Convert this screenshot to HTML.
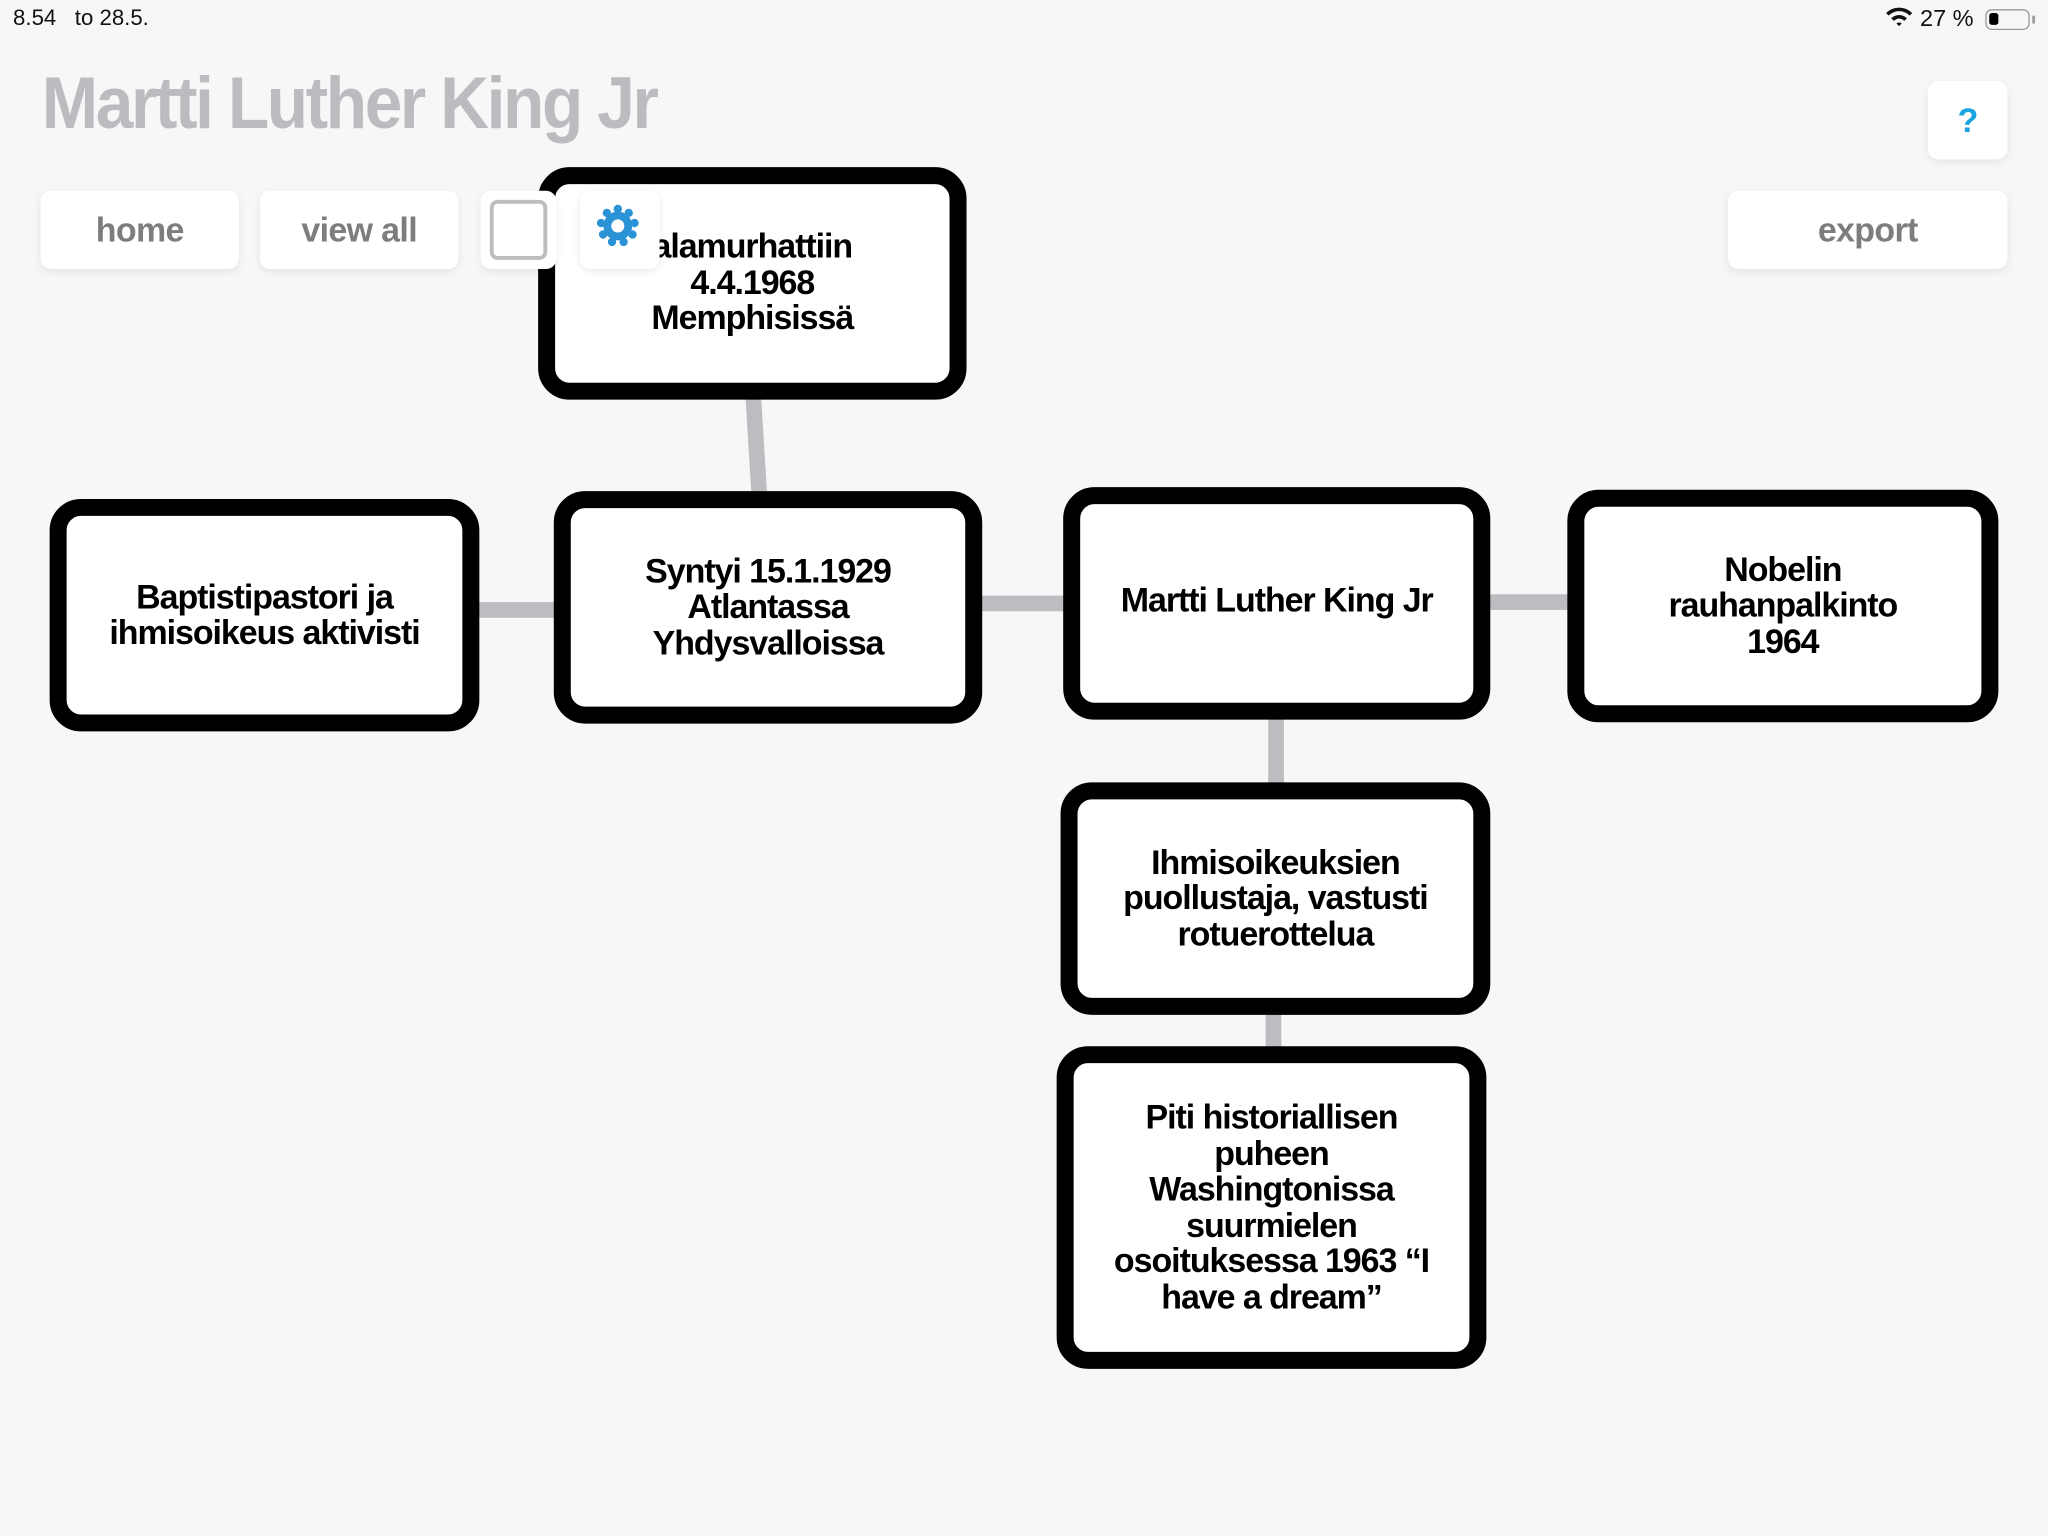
<!DOCTYPE html>
<html><head><meta charset="utf-8"><style>
html,body{margin:0;padding:0;width:2048px;height:1536px;overflow:hidden;background:#f7f7f7;}
#s{position:absolute;left:0;top:0;width:1568px;height:1176px;transform:scale(1.30612);transform-origin:0 0;font-family:"Liberation Sans","DejaVu Sans",sans-serif;}
.a{position:absolute}
.btn{position:absolute;background:#fff;border-radius:8px;box-shadow:0 2px 6px rgba(0,0,0,0.08);color:#7d7d80;font-weight:bold;font-size:26px;display:flex;align-items:center;justify-content:center;letter-spacing:-0.5px}
.box{position:absolute;box-sizing:border-box;border:13px solid #000;border-radius:24px;background:#fff;display:flex;align-items:center;justify-content:center;text-align:center;font-weight:bold;font-size:26px;line-height:27.5px;color:#000;letter-spacing:-0.8px;padding:0 20px}
.ln{position:absolute;background:#bdbdc1}
</style></head><body><div id="s">
<div class="a" style="left:10px;top:4px;font-size:17px;color:#111">8.54&nbsp;&nbsp; to 28.5.</div>
<div class="a" style="left:1443px;top:4px;font-size:18px;color:#111">
<svg width="22" height="18" viewBox="0 0 22 18" style="vertical-align:-2px"><path d="M1 6 A14 14 0 0 1 21 6 L19 8 A11 11 0 0 0 3 8Z M5 10 A8.5 8.5 0 0 1 17 10 L15 12 A5.5 5.5 0 0 0 7 12Z M9 14 L11 16 L13 14 A3 3 0 0 0 9 14Z" fill="#111"/></svg> 27 %</div>
<div class="a" style="left:1520px;top:7px;width:34px;height:16px;border:1.5px solid #999;border-radius:5px;box-sizing:border-box"><div style="position:absolute;left:2px;top:2px;width:7px;height:9px;background:#000;border-radius:2px"></div></div>
<div class="a" style="left:1556px;top:12px;width:2px;height:6px;background:#999"></div>
<div class="a" style="left:32px;top:46px;font-size:56px;font-weight:bold;color:#bcbcc0;letter-spacing:-2px;transform:scaleX(0.925);transform-origin:0 0;white-space:nowrap">Martti Luther King Jr</div>
<div class="btn" style="left:1476px;top:62px;width:61px;height:60px;color:#1aa3e0;font-size:26px">?</div>
<div class="btn" style="left:31px;top:146px;width:152px;height:60px">home</div>
<div class="btn" style="left:199px;top:146px;width:152px;height:60px">view all</div>
<div class="btn" style="left:1323px;top:146px;width:214px;height:60px">export</div>

<div class="ln" style="left:573px;top:300px;width:12px;height:82px;transform:rotate(-3.5deg)"></div>
<div class="ln" style="left:360px;top:461px;width:70px;height:12px"></div>
<div class="ln" style="left:745px;top:456px;width:75px;height:12px"></div>
<div class="ln" style="left:1135px;top:455px;width:70px;height:12px"></div>
<div class="ln" style="left:971px;top:545px;width:12px;height:60px"></div>
<div class="ln" style="left:969px;top:771px;width:12px;height:36px"></div>

<div class="box" style="left:412px;top:128px;width:328px;height:178px;align-items:flex-start;padding-top:34px">alamurhattiin<br>4.4.1968<br>Memphisissä</div>
<div class="box" style="left:38px;top:382px;width:329px;height:178px">Baptistipastori ja<br>ihmisoikeus aktivisti</div>
<div class="box" style="left:424px;top:376px;width:328px;height:178px">Syntyi 15.1.1929<br>Atlantassa<br>Yhdysvalloissa</div>
<div class="box" style="left:814px;top:373px;width:327px;height:178px;align-items:flex-start;padding-top:60px">Martti Luther King Jr</div>
<div class="box" style="left:1200px;top:375px;width:330px;height:178px">Nobelin<br>rauhanpalkinto<br>1964</div>
<div class="box" style="left:812px;top:599px;width:329px;height:178px">Ihmisoikeuksien<br>puollustaja, vastusti<br>rotuerottelua</div>
<div class="box" style="left:809px;top:801px;width:329px;height:247px">Piti historiallisen<br>puheen<br>Washingtonissa<br>suurmielen<br>osoituksessa 1963 “I<br>have a dream”</div>

<div class="btn" style="left:368px;top:146px;width:58px;height:60px"><div style="width:44px;height:46px;border:3px solid #bdbdc1;border-radius:6px;box-sizing:border-box"></div></div>
<div class="btn" style="left:444px;top:146px;width:61px;height:60px">
<svg width="36" height="36" viewBox="-18 -18 36 36" style="margin-top:-6px;margin-left:-4px"><g fill="#2a93d5"><circle r="11"/>
<circle cx="0" cy="-13" r="3.2"/>
<circle cx="0" cy="-13" r="3.2" transform="rotate(40)"/><circle cx="0" cy="-13" r="3.2" transform="rotate(80)"/><circle cx="0" cy="-13" r="3.2" transform="rotate(120)"/><circle cx="0" cy="-13" r="3.2" transform="rotate(160)"/><circle cx="0" cy="-13" r="3.2" transform="rotate(200)"/><circle cx="0" cy="-13" r="3.2" transform="rotate(240)"/><circle cx="0" cy="-13" r="3.2" transform="rotate(280)"/><circle cx="0" cy="-13" r="3.2" transform="rotate(320)"/></g>
<circle r="5" fill="#fff"/></svg></div>
</div></body></html>
